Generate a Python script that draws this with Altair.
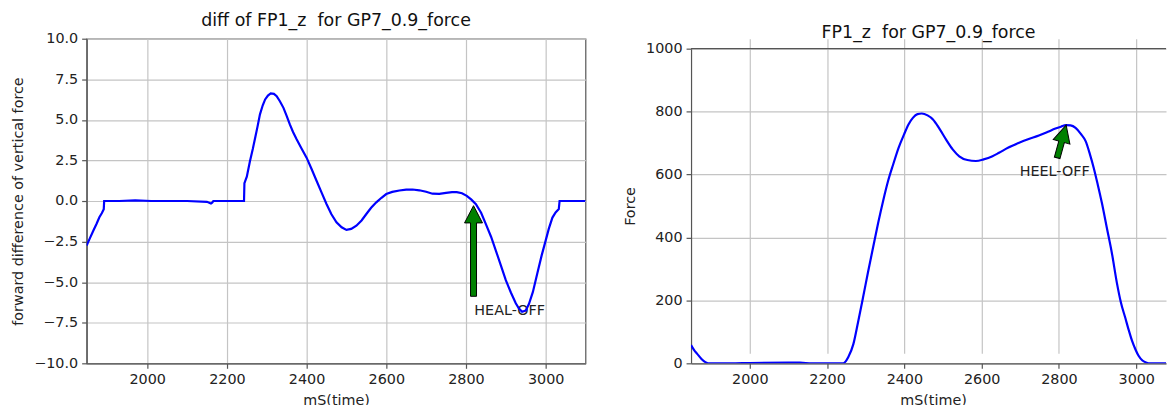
import altair as alt
import pandas as pd

# ---------------- data ----------------
diff_t = [1848, 1856, 1865, 1873, 1880, 1886, 1891, 1892, 1930, 1970, 2010, 2100, 2150, 2160,
          2163, 2166, 2200, 2243, 2244, 2250, 2258, 2265, 2271, 2277, 2283, 2290, 2296, 2303,
          2310, 2318, 2325, 2333, 2342, 2350, 2358, 2366, 2375, 2388, 2400, 2412, 2425, 2438,
          2450, 2462, 2475, 2488, 2500, 2512, 2525, 2538, 2550, 2562, 2575, 2588, 2600, 2615,
          2633, 2650, 2666, 2683, 2700, 2716, 2733, 2750, 2765, 2777, 2790, 2802, 2813, 2825,
          2838, 2850, 2863, 2875, 2888, 2900, 2913, 2925, 2933, 2941, 2950, 2958, 2968, 2979,
          2990, 3000, 3008, 3017, 3025, 3033, 3035, 3060, 3100]
diff_v = [-2.75, -2.3, -1.82, -1.4, -1.0, -0.75, -0.5, 0.0, 0.0, 0.04, 0.0, 0.0, -0.05, -0.15,
          -0.1, 0.0, 0.0, 0.0, 1.1, 1.5, 2.47, 3.2, 3.9, 4.6, 5.34, 5.9, 6.26, 6.5,
          6.63, 6.6, 6.46, 6.15, 5.74, 5.25, 4.72, 4.25, 3.8, 3.2, 2.67, 2.0, 1.25, 0.5,
          -0.18, -0.8, -1.31, -1.62, -1.78, -1.72, -1.52, -1.2, -0.8, -0.42, -0.08, 0.2, 0.43, 0.56,
          0.65, 0.7, 0.71, 0.66, 0.57, 0.45, 0.44, 0.5, 0.55, 0.55, 0.48, 0.32, 0.1, -0.2,
          -0.72, -1.42, -2.2, -3.05, -4.0, -4.88, -5.65, -6.3, -6.62, -6.82, -6.75, -6.35, -5.6, -4.47,
          -3.35, -2.44, -1.7, -1.02, -0.7, -0.5, 0.0, 0.0, 0.0]

force_t = [1848, 1856, 1864, 1875, 1886, 1892, 1950, 2000, 2100, 2130, 2160, 2200, 2242, 2255,
           2268, 2280, 2293, 2306, 2319, 2332, 2345, 2358, 2371, 2385, 2399, 2411, 2422, 2434,
           2445, 2460, 2474, 2491, 2508, 2525, 2542, 2563, 2585, 2605, 2628, 2645, 2668, 2697,
           2720, 2748, 2770, 2791, 2805, 2818, 2830, 2843, 2856, 2869, 2880, 2890, 2900, 2911,
           2924, 2937, 2950, 2960, 2972, 2980, 2989, 2998, 3006, 3016, 3027, 3035, 3100]
force_v = [58, 42, 30, 14, 3, 0, 0, 1, 2, 2, 0, 0, 0, 20,
           61, 130, 209, 290, 368, 445, 516, 580, 632, 685, 727, 760, 780, 792,
           794, 788, 775, 745, 711, 680, 658, 646, 643, 648, 658, 669, 685, 701,
           712, 724, 735, 746, 752, 757, 756, 748, 730, 706, 665, 621, 570, 510,
           430, 350, 255, 195, 143, 108, 72, 44, 24, 9, 2, 0, 0]

x_ticks = [2000, 2200, 2400, 2600, 2800, 3000]
diff_ticks = [-10, -7.5, -5, -2.5, 0, 2.5, 5, 7.5, 10]
force_ticks = [0, 200, 400, 600, 800, 1000]

left_title = "diff of FP1_z \u00a0for GP7_0.9_force"
right_title = "FP1_z \u00a0for GP7_0.9_force"
x_label = "mS(time)"
left_ylabel = "forward difference of vertical force"
right_ylabel = "Force"

# annotations (data coordinates)
heal_text = ["HEAL-OFF"]
heal_text_t = [2821]
heal_text_v = [-6.75]
heal_arrow_t = [2819]
heal_arrow_v = [-3.08]

heel_text = ["HEEL-OFF"]
heel_text_t = [2789]
heel_text_v = [595]
heel_arrow_t = [2807]
heel_arrow_v = [705]

# ---------------- styling ----------------
FONT = "DejaVu Sans"
TXT = "#222222"
FRAME = "#555555"
BLUE = "#0000ff"

LW, LH = 501, 326
RW, RH = 477, 326

up_arrow_long = "M0,-1 L0.198,-0.62 L0.066,-0.62 L0.066,1 L-0.066,1 L-0.066,-0.62 L-0.198,-0.62 Z"
up_arrow_short = "M0,-1 L0.51,0.02 L0.171,0.02 L0.171,1 L-0.171,1 L-0.171,0.02 L-0.51,0.02 Z"

diff_df = pd.DataFrame({"t": diff_t, "v": diff_v, "i": range(len(diff_t))})
force_df = pd.DataFrame({"t": force_t, "v": force_v, "i": range(len(force_t))})

xl_scale = alt.Scale(domain=[1848, 3100], nice=False, zero=False)
yl_scale = alt.Scale(domain=[-10, 10], nice=False, zero=False)
xr_scale = alt.Scale(domain=[1848, 3077], nice=False, zero=False)
yr_scale = alt.Scale(domain=[0, 1000], range=[RH, 10], nice=False, zero=False)


def x_axis(width):
    return alt.Axis(values=x_ticks, format="d", title=x_label, titleX=width / 2, titleY=41.5,
                    titleAlign="center", titleBaseline="alphabetic", labelOverlap=False)


# ---------------- left chart ----------------
lbase = alt.Chart(diff_df)
l_line = lbase.mark_line(color=BLUE, strokeWidth=2.2, clip=True).encode(
    x=alt.X("t:Q", scale=xl_scale, axis=x_axis(LW)),
    y=alt.Y("v:Q", scale=yl_scale,
            axis=alt.Axis(values=diff_ticks, format=".1f", title=left_ylabel, titleAngle=270,
                          titleX=-68.7, titleY=LH / 2, titleAlign="center",
                          titleBaseline="middle", labelOverlap=False)),
    order="i:Q",
)
l_text = alt.Chart(pd.DataFrame({"t": heal_text_t, "v": heal_text_v, "s": heal_text})).mark_text(
    align="left", baseline="middle", font=FONT, fontSize=14.4, color=TXT
).encode(x=alt.X("t:Q", scale=xl_scale), y=alt.Y("v:Q", scale=yl_scale), text="s:N")
l_arrow = alt.Chart(pd.DataFrame({"t": heal_arrow_t, "v": heal_arrow_v})).mark_point(
    shape=up_arrow_long, size=91 * 91, filled=True, fill="green", stroke="black",
    strokeWidth=1, opacity=1
).encode(x=alt.X("t:Q", scale=xl_scale), y=alt.Y("v:Q", scale=yl_scale))

left = alt.layer(l_text, l_line, l_arrow).properties(
    width=LW, height=LH,
    view=alt.ViewBackground(stroke=FRAME, strokeWidth=1.2),
    title=alt.TitleParams(left_title, font=FONT, fontSize=17.5, fontWeight="normal", color="#111111",
                          offset=9, dy=21.7, frame="group", anchor="middle", baseline="alphabetic"),
)

# ---------------- right chart ----------------
rbase = alt.Chart(force_df)
r_line = rbase.mark_line(color=BLUE, strokeWidth=2.2, clip=True, interpolate="monotone").encode(
    x=alt.X("t:Q", scale=xr_scale, axis=x_axis(RW + 9)),
    y=alt.Y("v:Q", scale=yr_scale,
            axis=alt.Axis(values=force_ticks, format="d", title=right_ylabel, titleAngle=270,
                          titleX=-60.7, titleY=(RH + 10) / 2, titleAlign="center",
                          titleBaseline="middle", labelOverlap=False)),
    order="i:Q",
)
r_top = alt.Chart(pd.DataFrame({"v": [1000]})).mark_rule(color=FRAME, strokeWidth=1.2).encode(
    y=alt.Y("v:Q", scale=yr_scale)
)
r_text = alt.Chart(pd.DataFrame({"t": heel_text_t, "v": heel_text_v, "s": heel_text})).mark_text(
    align="center", baseline="alphabetic", font=FONT, fontSize=14.4, color=TXT
).encode(x=alt.X("t:Q", scale=xr_scale), y=alt.Y("v:Q", scale=yr_scale), text="s:N")
r_arrow = alt.Chart(pd.DataFrame({"t": heel_arrow_t, "v": heel_arrow_v})).mark_point(
    shape=up_arrow_short, size=34 * 34, angle=15.4, filled=True, fill="green", stroke="black",
    strokeWidth=1, opacity=1
).encode(x=alt.X("t:Q", scale=xr_scale), y=alt.Y("v:Q", scale=yr_scale))

right = alt.layer(r_top, r_text, r_line, r_arrow).properties(
    width=RW, height=RH,
    view=alt.ViewBackground(stroke="transparent"),
    title=alt.TitleParams(right_title, font=FONT, fontSize=17.5, fontWeight="normal", color="#111111",
                          offset=-1, dy=15.7, frame="group", anchor="middle", baseline="alphabetic"),
)

chart = alt.hconcat(left, right, spacing=35).properties(
    padding={"left": 9, "top": 10, "right": 0, "bottom": 0},
    background="white",
).configure_axis(
    labelFont=FONT, labelFontSize=14.4, labelColor=TXT,
    titleFont=FONT, titleFontSize=14.4, titleFontWeight="normal", titleColor=TXT,
    tickColor=FRAME, tickSize=5, tickWidth=1.2, domainColor=FRAME, domainWidth=1.2,
    gridColor="#c4c4c4", gridWidth=1.2, labelPadding=4,
)

chart.save("out.html", embed_options={"renderer": "svg", "actions": False})
